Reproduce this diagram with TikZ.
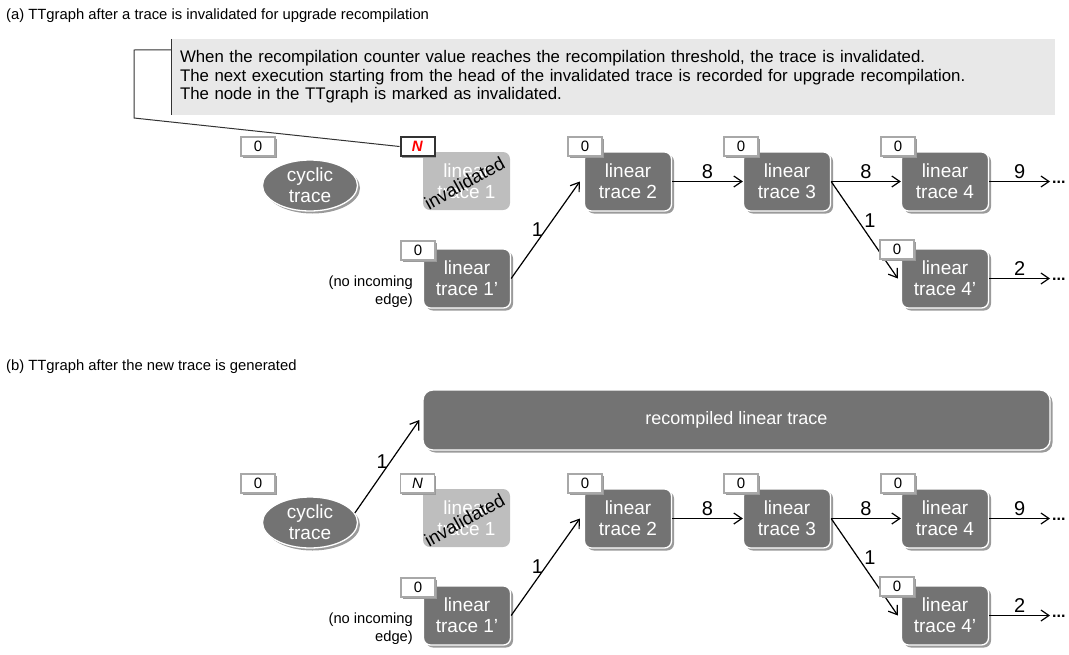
\documentclass[tikz,border=0pt]{standalone}
\usepackage{fontspec}
\setmainfont{Liberation Sans}
\usetikzlibrary{arrows.meta,shapes.geometric,shadows}

\definecolor{tracefill}{HTML}{737373}
\definecolor{deadfill}{HTML}{BEBEBE}
\definecolor{notefill}{HTML}{E8E8E8}
\definecolor{boxline}{HTML}{A8A8A8}
\definecolor{darkline}{HTML}{333333}
\definecolor{shadowgray}{HTML}{9A9A9A}

\tikzset{
  tracebox/.style={rectangle, rounded corners=7pt, fill=tracefill, draw=white,
    line width=1.3pt, text=white, align=center, inner sep=0pt,
    minimum width=87pt, minimum height=59pt,
    font=\fontsize{19}{21}\selectfont,
    drop shadow={shadow xshift=2.5pt, shadow yshift=-2.5pt, fill=shadowgray, opacity=1}},
  cyclicnode/.style={ellipse, fill=tracefill, draw=white, line width=1.3pt,
    text=white, align=center, inner sep=0pt, minimum width=95pt, minimum height=51pt,
    font=\fontsize{19}{21}\selectfont,
    drop shadow={shadow xshift=2.5pt, shadow yshift=-2.5pt, fill=shadowgray, opacity=1}},
  deadbox/.style={rectangle, rounded corners=7pt, fill=deadfill, text=white,
    align=center, inner sep=0pt, minimum width=87pt, minimum height=58pt,
    font=\fontsize{19}{21}\selectfont},
  deadtag/.style={rotate=29, inner sep=0pt, font=\fontsize{18.5}{18.5}\selectfont},
  countbox/.style={rectangle, fill=white, draw=boxline, line width=1.6pt,
    minimum width=34pt, minimum height=19pt, inner sep=0pt,
    font=\fontsize{15}{15}\selectfont,
    drop shadow={shadow xshift=1.6pt, shadow yshift=-1.6pt, fill=shadowgray, opacity=1}},
  flagbox/.style={countbox, draw=darkline, line width=2pt, text=red},
  flow/.style={line width=1.2pt, -{Straight Barb[length=8pt,width=11pt]}},
  elabel/.style={font=\fontsize{20}{20}\selectfont, inner sep=2pt},
  moredots/.style={anchor=base west, inner sep=0pt, font=\fontsize{16}{16}\selectfont\bfseries},
  heading/.style={anchor=base west, inner sep=0pt, font=\fontsize{14.8}{17}\selectfont},
  smallnote/.style={anchor=east, align=right, inner sep=0pt, font=\fontsize{14.7}{18}\selectfont},
  notebox/.style={rectangle, fill=notefill, minimum width=883pt, minimum height=76pt,
    text width=867pt, inner sep=8pt, align=left, font=\fontsize{16.8}{18.5}\selectfont},
}

% One row of the TTgraph: #1 = name prefix, #2 = vertical offset, #3 = marker node
\newcommand{\ttrow}[3]{%
\begin{scope}[shift={(0,#2)}]
  \node[cyclicnode] (#1cyc) at (310,185.5) {cyclic\\trace};
  \node[deadbox] (#1dead) at (466.5,181) {linear\\trace 1};
  \node[deadtag] (#1deadtag) at (464.5,183) {invalidated};
  \node[tracebox] (#1t2) at (628,181.5) {linear\\trace 2};
  \node[tracebox] (#1t3) at (787,181.5) {linear\\trace 3};
  \node[tracebox] (#1t4) at (945,181.5) {linear\\trace 4};
  \node[tracebox] (#1t4p) at (945,278.5) {linear\\trace 4’};
  \node[tracebox] (#1t1p) at (467,278.5) {linear\\trace 1’};
  \node[smallnote] (#1noin) at (413,292) {(no incoming\\edge)};
  \coordinate (#1end4) at (1050,181.5);
  \coordinate (#1end4p) at (1050,278.5);
  \draw[flow] (#1t1p.east) -- ([xshift=-4pt]#1t2.west) node[elabel, pos=.5, left] {1};
  \draw[flow] (#1t2.east) -- (#1t3.west) node[elabel, midway, above] {8};
  \draw[flow] (#1t3.east) -- (#1t4.west) node[elabel, midway, above] {8};
  \draw[flow] (#1t3.east) -- ([xshift=-3pt]#1t4p.west) node[elabel, pos=.4, right=4pt] {1};
  \draw[flow] (#1t4.east) -- (#1end4) node[elabel, midway, above] {9};
  \draw[flow] (#1t4p.east) -- (#1end4p) node[elabel, midway, above] {2};
  \node[moredots] (#1dots4) at ([shift={(2,1.5)}]#1end4) {...};
  \node[moredots] (#1dots4p) at ([shift={(2,1.5)}]#1end4p) {...};
  \node[countbox] (#1c0) at (258,146.5) {0};
  \node[countbox] (#1c2) at (585,146.5) {0};
  \node[countbox] (#1c3) at (741,146.5) {0};
  \node[countbox] (#1c4) at (898,146.5) {0};
  \node[countbox] (#1c4p) at (897,249.5) {0};
  \node[countbox] (#1c1p) at (418,250.5) {0};
  #3
\end{scope}}

\begin{document}
\begin{tikzpicture}[x=1pt, y=-1pt]
  \useasboundingbox (0,0) rectangle (1069,654);

  % (a) the trace is invalidated
  \node[heading] (atitle) at (6,19.5) {(a) TTgraph after a trace is invalidated for upgrade recompilation};
  \ttrow{a}{0}{\node[flagbox] (amark) at (417.5,146.5) {\textbf{\textit{N}}};}

  \node[notebox] (note) at (613.5,77) {When the recompilation counter value reaches the recompilation threshold, the trace is invalidated.\\
The next execution starting from the head of the invalidated trace is recorded for upgrade recompilation.\\
The node in the TTgraph is marked as invalidated.};
  \draw[darkline, line width=1pt] (note.north west) -- (note.south west);
  \coordinate (kneeA) at (134,50);
  \coordinate (kneeB) at (134,118);
  \draw[darkline, line width=1pt] ([yshift=-11pt]note.north west) -- (kneeA) -- (kneeB) -- (amark.west);

  % (b) the recompiled trace is in place
  \node[heading] (btitle) at (6,370) {(b) TTgraph after the new trace is generated};
  \ttrow{b}{337}{\node[countbox] (bmark) at (417.5,146.5) {\textit{N}};}
  \node[tracebox, rounded corners=10pt, minimum width=627pt, minimum height=60pt,
        font=\fontsize{18}{21}\selectfont] (bnew) at (736.5,420) {recompiled linear trace};
  \draw[flow] (bcyc.12) -- ([xshift=-3pt]bnew.west) node[elabel, pos=.55, left] {1};
\end{tikzpicture}
\end{document}
